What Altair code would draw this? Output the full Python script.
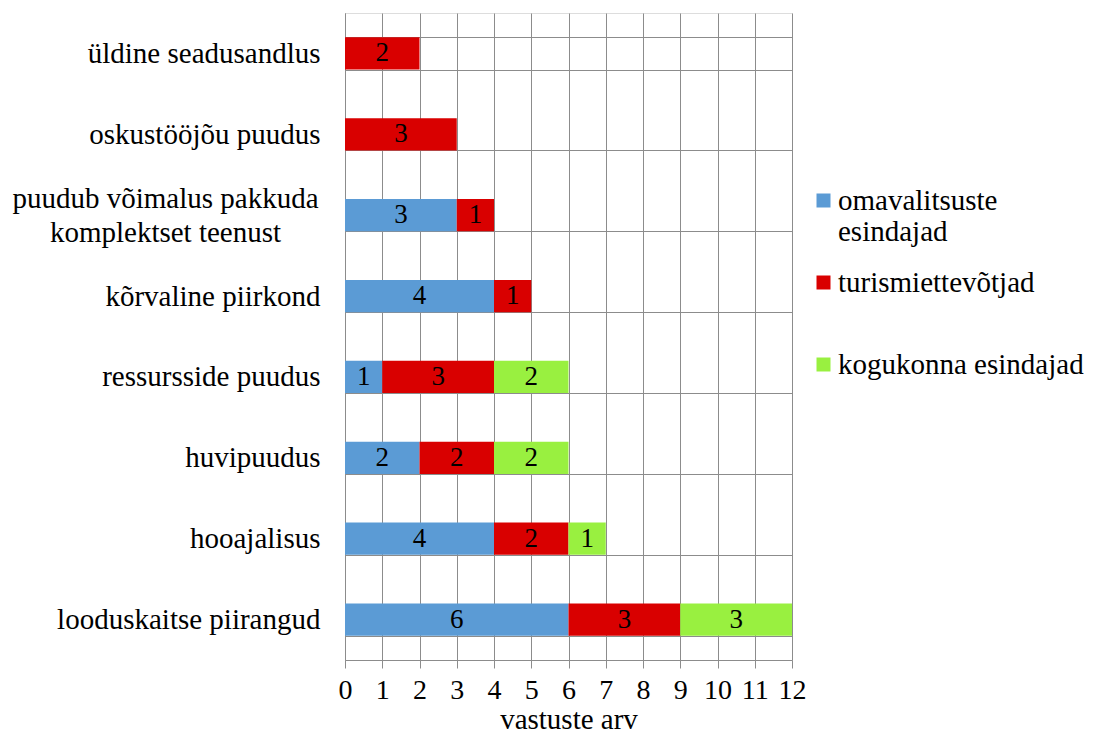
import altair as alt
import pandas as pd

categories = [
    "üldine seadusandlus",
    "oskustööjõu puudus",
    "puudub võimalus pakkuda komplektset teenust",
    "kõrvaline piirkond",
    "ressursside puudus",
    "huvipuudus",
    "hooajalisus",
    "looduskaitse piirangud",
]
series = ["omavalitsuste esindajad", "turismiettevõtjad", "kogukonna esindajad"]
omavalitsused = [0, 0, 3, 4, 1, 2, 4, 6]
turismiettevotjad = [2, 3, 1, 1, 3, 2, 2, 3]
kogukond = [0, 0, 0, 0, 2, 2, 1, 3]
colors = ["#5B9BD5", "#D90000", "#99F040"]
x_ticks = list(range(0, 13))

rows = []
for s_i, (s, vals) in enumerate(zip(series, [omavalitsused, turismiettevotjad, kogukond])):
    for c, v in zip(categories, vals):
        if v > 0:
            rows.append({"kategooria": c, "grupp": s, "vaartus": v, "jrk": s_i})
df = pd.DataFrame(rows)

FONT = "Liberation Serif, Times New Roman, serif"
GRID = "#8C8C8C"
LONG = "puudub võimalus pakkuda komplektset teenust"
TEST = f"datum.value == '{LONG}'"

base = alt.Chart(df).transform_stack(
    stack="vaartus", groupby=["kategooria"], as_=["x0", "x1"],
    sort=[alt.SortField("jrk", order="ascending")]
).transform_calculate(mid="(datum.x0 + datum.x1) / 2")

y_axis = alt.Axis(
    labelFont=FONT, labelFontSize=29, labelColor="black",
    labelPadding={"condition": {"test": TEST, "value": 180}, "value": 25},
    labelAlign={"condition": {"test": TEST, "value": "center"}, "value": "right"},
    labelOffset={"condition": {"test": TEST, "value": -17}, "value": 0},
    ticks=False, grid=True, tickBand="extent", gridColor=GRID, gridOpacity=1,
    domainColor=GRID, labelLimit=400,
    labelExpr=f"{TEST} ? ['puudub võimalus pakkuda', 'komplektset teenust'] : datum.value",
    labelLineHeight=34,
)
y_scale = alt.Scale(paddingInner=0.6, paddingOuter=0.3)

x_axis = alt.Axis(values=x_ticks, grid=True, gridColor=GRID, gridOpacity=1,
                  domainColor=GRID, tickColor=GRID, tickSize=8,
                  labelFont=FONT, labelFontSize=28, labelColor="black",
                  labelOverlap=False, labelFlush=False,
                  labelPadding=8, titleFont=FONT, titleFontSize=29,
                  titleFontWeight="normal", titleColor="black",
                  titleBaseline="alphabetic", titleY=68)
x_scale = alt.Scale(domain=[0, 12], nice=False)

bars = base.mark_bar().encode(
    x=alt.X("x0:Q", title="vastuste arv", scale=x_scale, axis=x_axis),
    x2="x1:Q",
    y=alt.Y("kategooria:N", sort=categories, title=None, scale=y_scale, axis=y_axis),
    color=alt.Color("grupp:N", scale=alt.Scale(domain=series, range=colors),
                    legend=alt.Legend(
                        title=None, orient="none", legendX=464, legendY=173,
                        symbolType="square", symbolSize=196, symbolStrokeWidth=0,
                        labelFont=FONT, labelFontSize=29, labelColor="black",
                        labelLimit=400, rowPadding=21, labelOffset=0,
                        gridAlign="all",
                        labelExpr="datum.value == 'omavalitsuste esindajad' ? ['omavalitsuste', 'esindajad'] : datum.value",
                    )),
)

labels = base.mark_text(font=FONT, fontSize=27, color="black", baseline="middle").encode(
    x=alt.X("mid:Q", title="vastuste arv", scale=x_scale, axis=x_axis),
    y=alt.Y("kategooria:N", sort=categories, title=None, scale=y_scale, axis=y_axis),
    text=alt.Text("vaartus:Q"),
)

chart = alt.layer(bars, labels).properties(
    width=447, height=647,
    autosize=alt.AutoSizeParams(type="none"),
    padding={"left": 337, "top": 5, "right": 292, "bottom": 69},
).configure_view(stroke=GRID, strokeWidth=1).configure(font=FONT)

chart.save("out.html", embed_options={"renderer": "svg", "actions": False})
